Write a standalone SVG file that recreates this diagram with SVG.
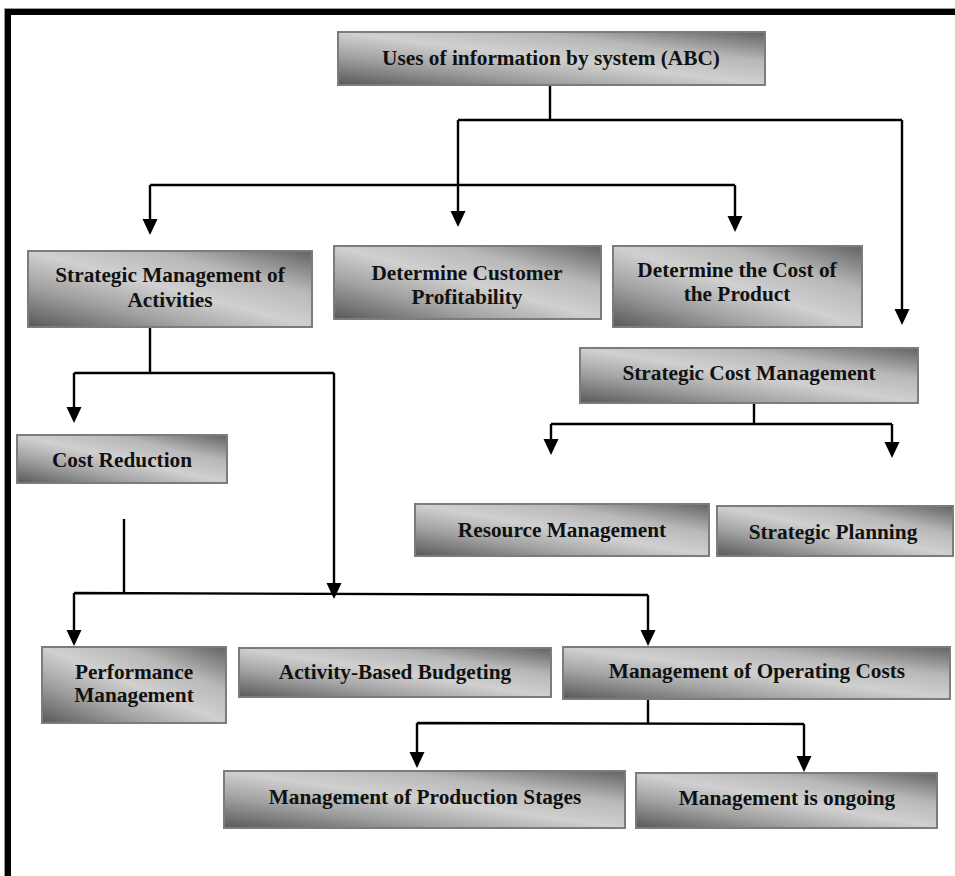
<svg xmlns="http://www.w3.org/2000/svg" width="955" height="876" viewBox="0 0 955 876">
  <style>
    .box { fill: url(#g); stroke: #7c7c7c; stroke-width: 2; }
    .t { font-family: "Liberation Serif", "Times New Roman", serif; font-weight: bold; font-size: 21.3px; fill: #111; text-anchor: middle; }
    .c { stroke: #000; stroke-width: 2.4; fill: none; }
    .ah { fill: #000; }
  </style>
  <defs>
    <linearGradient id="g" x1="0" y1="1" x2="1" y2="0">
      <stop offset="0" stop-color="#585858"/>
      <stop offset="0.28" stop-color="#a2a2a2"/>
      <stop offset="0.5" stop-color="#d0d0d0"/>
      <stop offset="0.72" stop-color="#b8b8b8"/>
      <stop offset="1" stop-color="#626262"/>
    </linearGradient>
    <path id="arr" class="ah" d="M-7.5,-16 L7.5,-16 L0,0 Z"/>
  </defs>
  <rect width="955" height="876" fill="#fff"/>

  <!-- frame -->
  <g id="frame">
    <path d="M4.5,876 V8.5 H955" stroke="#9a9a9a" stroke-width="1" fill="none"/>
    <path d="M8,876 V12 H955" stroke="#000" stroke-width="6" fill="none"/>
  </g>

  <!-- connectors -->
  <g id="connectors">
    <path class="c" d="M550,85 V120 M458,120 H902 M458,120 V214 M902,120 V312"/>
    <path class="c" d="M150,185 H735 M150,185 V222 M735,185 V219"/>
    <path class="c" d="M150,327 V373 M74,373 H334 M74,373 V410 M334,373 V586"/>
    <path class="c" d="M124,519 V593 M74,593 L648,595 M74,593 V633 M648,595 V633"/>
    <path class="c" d="M754,403 V424 M551,424 H892 M551,424 V442 M892,424 V445"/>
    <path class="c" d="M648,699 V723 M417,723 L804,724 M417,723 V755 M804,724 V759"/>
    <use href="#arr" x="458" y="227"/>
    <use href="#arr" x="902" y="325"/>
    <use href="#arr" x="150" y="235"/>
    <use href="#arr" x="735" y="232"/>
    <use href="#arr" x="74" y="423"/>
    <use href="#arr" x="334" y="599"/>
    <use href="#arr" x="74" y="646"/>
    <use href="#arr" x="648" y="646"/>
    <use href="#arr" x="551" y="455"/>
    <use href="#arr" x="892" y="458"/>
    <use href="#arr" x="417" y="768"/>
    <use href="#arr" x="804" y="772"/>
  </g>

  <g id="n1">
    <rect class="box" x="338" y="32" width="427" height="53"/>
    <text class="t" x="551" y="65">Uses of information by system (ABC)</text>
  </g>
  <g id="n2">
    <rect class="box" x="28" y="251" width="284" height="76"/>
    <text class="t" x="170" y="282">Strategic Management of</text>
    <text class="t" x="170" y="307">Activities</text>
  </g>
  <g id="n3">
    <rect class="box" x="334" y="246" width="267" height="73"/>
    <text class="t" x="467" y="280">Determine Customer</text>
    <text class="t" x="467" y="304">Profitability</text>
  </g>
  <g id="n4">
    <rect class="box" x="613" y="246" width="249" height="81"/>
    <text class="t" x="737" y="277">Determine the Cost of</text>
    <text class="t" x="737" y="301">the Product</text>
  </g>
  <g id="n5">
    <rect class="box" x="580" y="348" width="338" height="55"/>
    <text class="t" x="749" y="380">Strategic Cost Management</text>
  </g>
  <g id="n6">
    <rect class="box" x="17" y="435" width="210" height="48"/>
    <text class="t" x="122" y="467">Cost Reduction</text>
  </g>
  <g id="n7">
    <rect class="box" x="415" y="504" width="294" height="52"/>
    <text class="t" x="562" y="537">Resource Management</text>
  </g>
  <g id="n8">
    <rect class="box" x="717" y="506" width="236" height="50"/>
    <text class="t" x="833" y="539">Strategic Planning</text>
  </g>
  <g id="n9">
    <rect class="box" x="42" y="647" width="184" height="76"/>
    <text class="t" x="134" y="679">Performance</text>
    <text class="t" x="134" y="702">Management</text>
  </g>
  <g id="n10">
    <rect class="box" x="239" y="648" width="312" height="49"/>
    <text class="t" x="395" y="679">Activity-Based Budgeting</text>
  </g>
  <g id="n11">
    <rect class="box" x="563" y="647" width="387" height="52"/>
    <text class="t" x="757" y="678">Management of Operating Costs</text>
  </g>
  <g id="n12">
    <rect class="box" x="224" y="771" width="401" height="57"/>
    <text class="t" x="425" y="804">Management of Production Stages</text>
  </g>
  <g id="n13">
    <rect class="box" x="636" y="773" width="301" height="55"/>
    <text class="t" x="787" y="805">Management is ongoing</text>
  </g>
</svg>
